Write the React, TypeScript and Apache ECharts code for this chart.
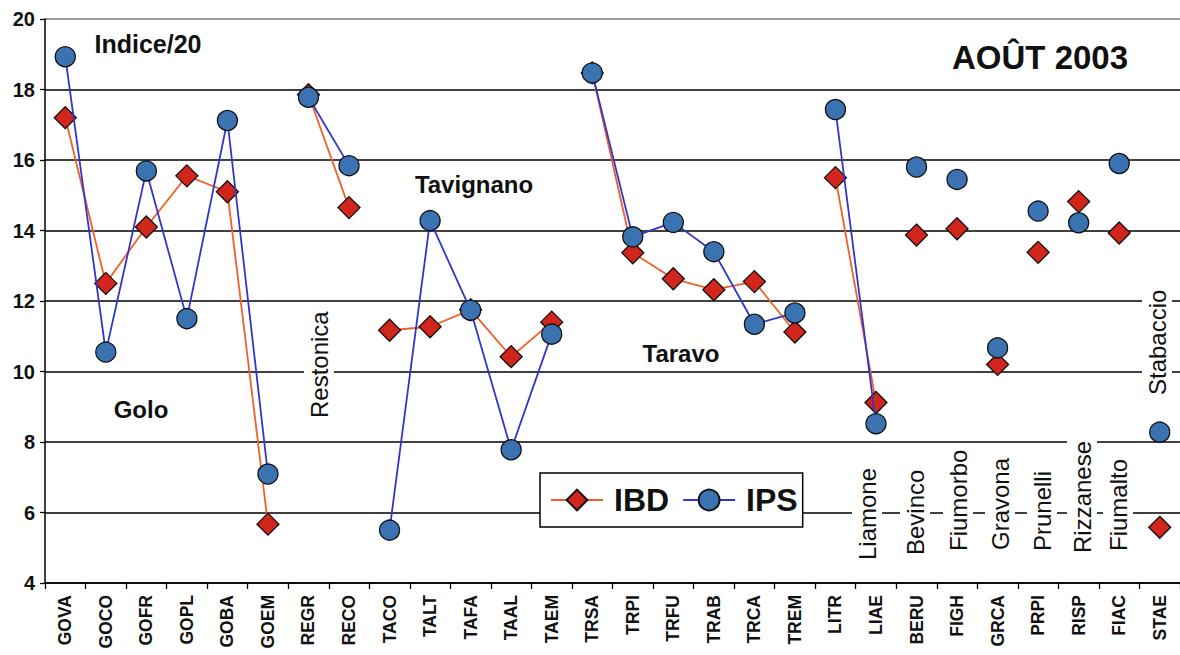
import React, { useEffect, useRef } from 'react';
import * as echarts from 'echarts';

const stations = ['GOVA','GOCO','GOFR','GOPL','GOBA','GOEM','REGR','RECO','TACO','TALT','TAFA','TAAL','TAEM','TRSA','TRPI','TRFU','TRAB','TRCA','TREM','LITR','LIAE','BERU','FIGH','GRCA','PRPI','RISP','FIAC','STAE'];
const rivers = ['Golo','Golo','Golo','Golo','Golo','Golo','Restonica','Restonica','Tavignano','Tavignano','Tavignano','Tavignano','Tavignano','Taravo','Taravo','Taravo','Taravo','Taravo','Taravo','Liamone','Liamone','Bevinco','Fiumorbo','Gravona','Prunelli','Rizzanese','Fiumalto','Stabaccio'];
const ibd = [17.2,12.5,14.1,15.55,15.1,5.67,17.85,14.65,11.17,11.27,11.75,10.42,11.4,18.47,13.37,12.63,12.32,12.55,11.12,15.5,9.12,13.87,14.05,10.2,13.38,14.82,13.93,5.58];
const ips = [18.93,10.55,15.69,11.5,17.12,7.09,17.78,15.84,5.5,14.28,11.74,7.78,11.06,18.47,13.82,14.23,13.4,11.34,11.66,17.43,8.52,15.8,15.45,10.67,14.55,14.22,15.9,8.28];
const yMin = 4;
const yMax = 20;
const yInterval = 2;
const seriesNames = ['IBD', 'IPS'];
const titleText = 'Indice/20';
const dateText = 'AOÛT 2003';

const FONT = "'Liberation Sans', Arial, Helvetica, sans-serif";

export default function App() {
  const ref = useRef<HTMLDivElement>(null);
  useEffect(() => {
    if (!ref.current) return;
    const chart = echarts.init(ref.current, undefined, { renderer: 'svg' });
    const groups: string[] = [];
    rivers.forEach((r) => { if (!groups.includes(r)) groups.push(r); });

    const series: any[] = [];
    groups.forEach((g) => {
      series.push({
        name: seriesNames[0], type: 'line', silent: true,
        data: ibd.map((v, i) => (rivers[i] === g ? v : null)),
        symbol: 'diamond', symbolSize: 22, showSymbol: true,
        lineStyle: { color: '#f0602c', width: 1.8 },
        itemStyle: { color: '#d2261d', borderColor: '#111', borderWidth: 1.3 },
        z: 3,
      });
    });
    groups.forEach((g) => {
      series.push({
        name: seriesNames[1], type: 'line', silent: true,
        data: ips.map((v, i) => (rivers[i] === g ? v : null)),
        symbol: 'circle', symbolSize: 20, showSymbol: true,
        lineStyle: { color: '#3236c8', width: 1.8 },
        itemStyle: { color: '#3a72b2', borderColor: '#111', borderWidth: 1.3 },
        z: 4,
      });
    });

    const txt = (text: string, x: number, y: number, size: number, bold = true) => ({
      type: 'text', x, y, z: 100,
      style: {
        text, fill: '#111', fontSize: size, fontWeight: bold ? 'bold' : 'normal', fontFamily: FONT,
        align: 'center', verticalAlign: 'middle',
      },
    });
    const vtxt = (text: string, x: number, yBottom: number, size: number, bold = false) => ({
      type: 'text', x, y: yBottom, z: 100, rotation: Math.PI / 2,
      style: {
        text, fill: '#111', fontSize: size, fontWeight: bold ? 'bold' : 'normal', fontFamily: FONT,
        align: 'left', verticalAlign: 'middle', backgroundColor: '#fff', padding: [3, 2],
      },
    });

    chart.setOption({
      animation: false,
      backgroundColor: '#fff',
      grid: { left: 45, right: 0, top: 19, bottom: 72, containLabel: false },
      xAxis: {
        type: 'category', data: stations, boundaryGap: true,
        axisLine: { lineStyle: { color: '#000', width: 1.5 } },
        axisTick: { show: true, length: 6, lineStyle: { color: '#000', width: 1.3 } },
        axisLabel: { rotate: 90, interval: 0, margin: 12, color: '#111', fontSize: 17.5, fontWeight: 'bold', fontFamily: FONT },
      },
      yAxis: {
        type: 'value', min: yMin, max: yMax, interval: yInterval,
        axisLine: { show: true, lineStyle: { color: '#000', width: 1.5 } },
        axisTick: { show: true, length: 5, lineStyle: { color: '#000', width: 1.3 } },
        axisLabel: { margin: 10, color: '#111', fontSize: 20, fontWeight: 'bold', fontFamily: FONT },
        splitLine: { show: true, lineStyle: { color: ['#000','#000','#000','#000','#000','#000','#000','#000','#777'], width: 1.5 } },
      },
      legend: {
        data: seriesNames, left: 540, top: 473, orient: 'horizontal',
        backgroundColor: '#fff', borderColor: '#000', borderWidth: 1.5,
        padding: [11, 5, 11, 10], itemWidth: 52, itemHeight: 26, itemGap: 13,
        textStyle: { fontSize: 32, fontWeight: 'bold', color: '#111', fontFamily: FONT, padding: [0, 0, 0, 6] },
        selectedMode: false,
      },
      graphic: [
        txt(titleText, 148, 44, 25),
        txt(dateText, 1040, 57, 33),
        txt('Tavignano', 474, 184, 24),
        txt('Golo', 141, 409, 24),
        txt('Taravo', 681, 353, 24),
        vtxt('Restonica', 319, 420, 24),
        vtxt('Stabaccio', 1157, 397, 24),
        vtxt('Liamone', 867, 562, 24),
        vtxt('Bevinco', 915, 557, 24),
        vtxt('Fiumorbo', 958, 553, 24),
        vtxt('Gravona', 1000, 552, 24),
        vtxt('Prunelli', 1042, 553, 24),
        vtxt('Rizzanese', 1082, 555, 24),
        vtxt('Fiumalto', 1118, 553, 24),
      ],
      series,
    });
    return () => chart.dispose();
  }, []);
  return <div ref={ref} style={{ position: 'absolute', left: 0, top: 0, width: 1180, height: 655 }} />;
}
